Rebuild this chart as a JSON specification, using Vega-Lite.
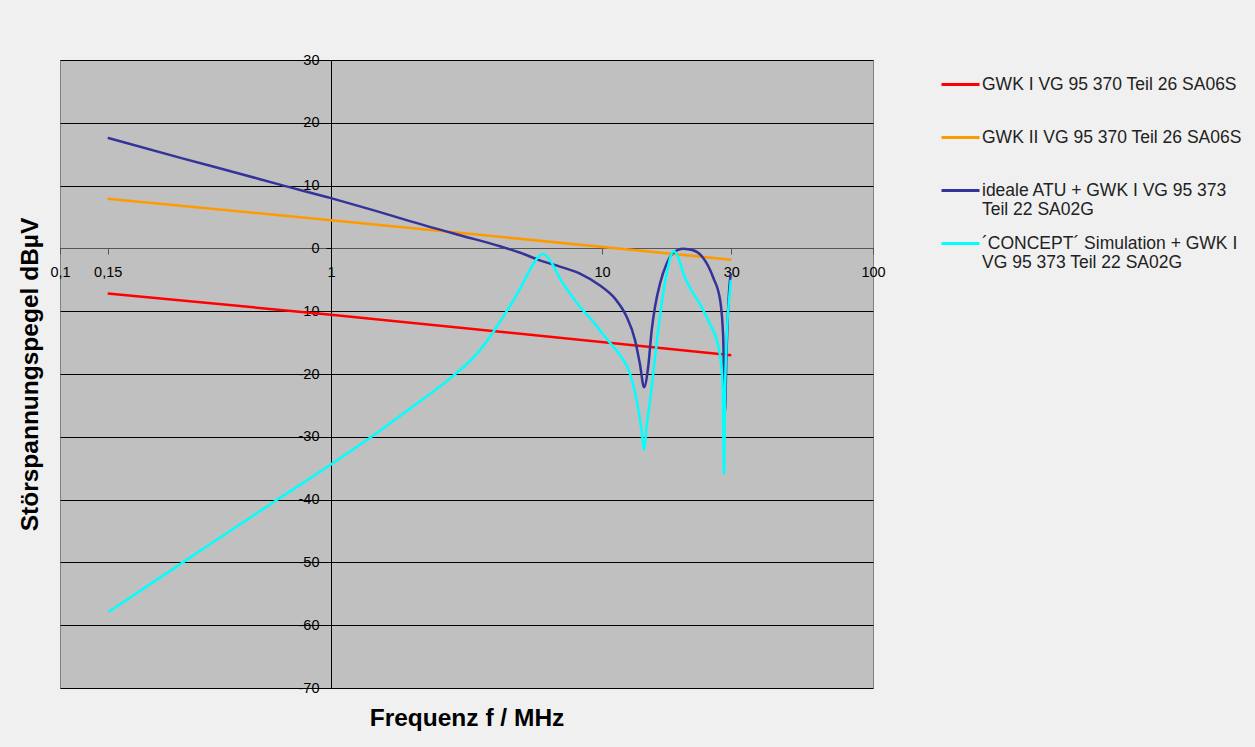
{
  "$schema": "https://vega.github.io/schema/vega-lite/v6.json",
  "width": 813,
  "height": 628,
  "autosize": {"type": "none"},
  "padding": {"left": 60, "top": 60, "right": 382, "bottom": 59},
  "background": "#F0F0F0",
  "config": {
    "view": {"fill": "#C0C0C0", "stroke": "#808080", "strokeWidth": 1},
    "font": "Liberation Sans"
  },
  "data": {
    "values": [
      {"series": "GWK I VG 95 370 Teil 26 SA06S", "f": 0.15, "dB": -7.2},
      {"series": "GWK I VG 95 370 Teil 26 SA06S", "f": 1, "dB": -10.55},
      {"series": "GWK I VG 95 370 Teil 26 SA06S", "f": 30, "dB": -17.0},
      {"series": "GWK II VG 95 370 Teil 26 SA06S", "f": 0.15, "dB": 7.9},
      {"series": "GWK II VG 95 370 Teil 26 SA06S", "f": 1, "dB": 4.5},
      {"series": "GWK II VG 95 370 Teil 26 SA06S", "f": 30, "dB": -1.8},
      {"series": "ideale ATU + GWK I VG 95 373 Teil 22 SA02G", "f": 0.15, "dB": 17.6},
      {"series": "ideale ATU + GWK I VG 95 373 Teil 22 SA02G", "f": 0.285, "dB": 14.3},
      {"series": "ideale ATU + GWK I VG 95 373 Teil 22 SA02G", "f": 0.461, "dB": 11.9},
      {"series": "ideale ATU + GWK I VG 95 373 Teil 22 SA02G", "f": 0.648, "dB": 10.15},
      {"series": "ideale ATU + GWK I VG 95 373 Teil 22 SA02G", "f": 1.0, "dB": 8.0},
      {"series": "ideale ATU + GWK I VG 95 373 Teil 22 SA02G", "f": 1.43, "dB": 6.1},
      {"series": "ideale ATU + GWK I VG 95 373 Teil 22 SA02G", "f": 1.9, "dB": 4.5},
      {"series": "ideale ATU + GWK I VG 95 373 Teil 22 SA02G", "f": 2.99, "dB": 2.1},
      {"series": "ideale ATU + GWK I VG 95 373 Teil 22 SA02G", "f": 4.2, "dB": 0.35},
      {"series": "ideale ATU + GWK I VG 95 373 Teil 22 SA02G", "f": 5.0, "dB": -0.7},
      {"series": "ideale ATU + GWK I VG 95 373 Teil 22 SA02G", "f": 5.9, "dB": -1.9},
      {"series": "ideale ATU + GWK I VG 95 373 Teil 22 SA02G", "f": 7.0, "dB": -2.9},
      {"series": "ideale ATU + GWK I VG 95 373 Teil 22 SA02G", "f": 8.29, "dB": -4.0},
      {"series": "ideale ATU + GWK I VG 95 373 Teil 22 SA02G", "f": 9.83, "dB": -5.9},
      {"series": "ideale ATU + GWK I VG 95 373 Teil 22 SA02G", "f": 11.17, "dB": -8.0},
      {"series": "ideale ATU + GWK I VG 95 373 Teil 22 SA02G", "f": 12.33, "dB": -10.9},
      {"series": "ideale ATU + GWK I VG 95 373 Teil 22 SA02G", "f": 13.24, "dB": -14.6},
      {"series": "ideale ATU + GWK I VG 95 373 Teil 22 SA02G", "f": 13.8, "dB": -18.4},
      {"series": "ideale ATU + GWK I VG 95 373 Teil 22 SA02G", "f": 14.3, "dB": -22.1},
      {"series": "ideale ATU + GWK I VG 95 373 Teil 22 SA02G", "f": 14.8, "dB": -18.9},
      {"series": "ideale ATU + GWK I VG 95 373 Teil 22 SA02G", "f": 15.25, "dB": -13.1},
      {"series": "ideale ATU + GWK I VG 95 373 Teil 22 SA02G", "f": 15.69, "dB": -9.3},
      {"series": "ideale ATU + GWK I VG 95 373 Teil 22 SA02G", "f": 16.37, "dB": -5.6},
      {"series": "ideale ATU + GWK I VG 95 373 Teil 22 SA02G", "f": 17.33, "dB": -2.4},
      {"series": "ideale ATU + GWK I VG 95 373 Teil 22 SA02G", "f": 18.3, "dB": -0.74},
      {"series": "ideale ATU + GWK I VG 95 373 Teil 22 SA02G", "f": 19.95, "dB": -0.05},
      {"series": "ideale ATU + GWK I VG 95 373 Teil 22 SA02G", "f": 21.7, "dB": -0.3},
      {"series": "ideale ATU + GWK I VG 95 373 Teil 22 SA02G", "f": 23.6, "dB": -1.5},
      {"series": "ideale ATU + GWK I VG 95 373 Teil 22 SA02G", "f": 25.7, "dB": -4.6},
      {"series": "ideale ATU + GWK I VG 95 373 Teil 22 SA02G", "f": 27.3, "dB": -8.3},
      {"series": "ideale ATU + GWK I VG 95 373 Teil 22 SA02G", "f": 28.0, "dB": -14.1},
      {"series": "ideale ATU + GWK I VG 95 373 Teil 22 SA02G", "f": 28.4, "dB": -26.3},
      {"series": "ideale ATU + GWK I VG 95 373 Teil 22 SA02G", "f": 28.8, "dB": -16.8},
      {"series": "ideale ATU + GWK I VG 95 373 Teil 22 SA02G", "f": 29.5, "dB": -6.2},
      {"series": "ideale ATU + GWK I VG 95 373 Teil 22 SA02G", "f": 29.9, "dB": -4.0},
      {"series": "´CONCEPT´ Simulation + GWK I VG 95 373 Teil 22 SA02G", "f": 0.151, "dB": -57.9},
      {"series": "´CONCEPT´ Simulation + GWK I VG 95 373 Teil 22 SA02G", "f": 0.285, "dB": -49.95},
      {"series": "´CONCEPT´ Simulation + GWK I VG 95 373 Teil 22 SA02G", "f": 0.639, "dB": -39.9},
      {"series": "´CONCEPT´ Simulation + GWK I VG 95 373 Teil 22 SA02G", "f": 1.0, "dB": -34.4},
      {"series": "´CONCEPT´ Simulation + GWK I VG 95 373 Teil 22 SA02G", "f": 1.41, "dB": -30.0},
      {"series": "´CONCEPT´ Simulation + GWK I VG 95 373 Teil 22 SA02G", "f": 1.957, "dB": -25.5},
      {"series": "´CONCEPT´ Simulation + GWK I VG 95 373 Teil 22 SA02G", "f": 2.75, "dB": -20.7},
      {"series": "´CONCEPT´ Simulation + GWK I VG 95 373 Teil 22 SA02G", "f": 3.45, "dB": -16.8},
      {"series": "´CONCEPT´ Simulation + GWK I VG 95 373 Teil 22 SA02G", "f": 3.97, "dB": -13.3},
      {"series": "´CONCEPT´ Simulation + GWK I VG 95 373 Teil 22 SA02G", "f": 4.51, "dB": -9.6},
      {"series": "´CONCEPT´ Simulation + GWK I VG 95 373 Teil 22 SA02G", "f": 4.84, "dB": -7.4},
      {"series": "´CONCEPT´ Simulation + GWK I VG 95 373 Teil 22 SA02G", "f": 5.13, "dB": -5.4},
      {"series": "´CONCEPT´ Simulation + GWK I VG 95 373 Teil 22 SA02G", "f": 5.42, "dB": -3.4},
      {"series": "´CONCEPT´ Simulation + GWK I VG 95 373 Teil 22 SA02G", "f": 5.74, "dB": -1.7},
      {"series": "´CONCEPT´ Simulation + GWK I VG 95 373 Teil 22 SA02G", "f": 6.05, "dB": -0.9},
      {"series": "´CONCEPT´ Simulation + GWK I VG 95 373 Teil 22 SA02G", "f": 6.43, "dB": -1.9},
      {"series": "´CONCEPT´ Simulation + GWK I VG 95 373 Teil 22 SA02G", "f": 7.0, "dB": -4.8},
      {"series": "´CONCEPT´ Simulation + GWK I VG 95 373 Teil 22 SA02G", "f": 7.62, "dB": -7.2},
      {"series": "´CONCEPT´ Simulation + GWK I VG 95 373 Teil 22 SA02G", "f": 8.29, "dB": -9.3},
      {"series": "´CONCEPT´ Simulation + GWK I VG 95 373 Teil 22 SA02G", "f": 9.29, "dB": -11.7},
      {"series": "´CONCEPT´ Simulation + GWK I VG 95 373 Teil 22 SA02G", "f": 10.4, "dB": -14.4},
      {"series": "´CONCEPT´ Simulation + GWK I VG 95 373 Teil 22 SA02G", "f": 11.65, "dB": -17.0},
      {"series": "´CONCEPT´ Simulation + GWK I VG 95 373 Teil 22 SA02G", "f": 12.7, "dB": -20.0},
      {"series": "´CONCEPT´ Simulation + GWK I VG 95 373 Teil 22 SA02G", "f": 13.43, "dB": -24.2},
      {"series": "´CONCEPT´ Simulation + GWK I VG 95 373 Teil 22 SA02G", "f": 14.0, "dB": -29.0},
      {"series": "´CONCEPT´ Simulation + GWK I VG 95 373 Teil 22 SA02G", "f": 14.3, "dB": -32.1},
      {"series": "´CONCEPT´ Simulation + GWK I VG 95 373 Teil 22 SA02G", "f": 14.6, "dB": -28.5},
      {"series": "´CONCEPT´ Simulation + GWK I VG 95 373 Teil 22 SA02G", "f": 15.25, "dB": -22.1},
      {"series": "´CONCEPT´ Simulation + GWK I VG 95 373 Teil 22 SA02G", "f": 15.9, "dB": -15.2},
      {"series": "´CONCEPT´ Simulation + GWK I VG 95 373 Teil 22 SA02G", "f": 16.6, "dB": -8.8},
      {"series": "´CONCEPT´ Simulation + GWK I VG 95 373 Teil 22 SA02G", "f": 17.33, "dB": -4.0},
      {"series": "´CONCEPT´ Simulation + GWK I VG 95 373 Teil 22 SA02G", "f": 18.07, "dB": -0.85},
      {"series": "´CONCEPT´ Simulation + GWK I VG 95 373 Teil 22 SA02G", "f": 18.4, "dB": -0.4},
      {"series": "´CONCEPT´ Simulation + GWK I VG 95 373 Teil 22 SA02G", "f": 19.1, "dB": -1.4},
      {"series": "´CONCEPT´ Simulation + GWK I VG 95 373 Teil 22 SA02G", "f": 19.95, "dB": -4.0},
      {"series": "´CONCEPT´ Simulation + GWK I VG 95 373 Teil 22 SA02G", "f": 21.4, "dB": -6.7},
      {"series": "´CONCEPT´ Simulation + GWK I VG 95 373 Teil 22 SA02G", "f": 23.3, "dB": -9.3},
      {"series": "´CONCEPT´ Simulation + GWK I VG 95 373 Teil 22 SA02G", "f": 25.0, "dB": -12.0},
      {"series": "´CONCEPT´ Simulation + GWK I VG 95 373 Teil 22 SA02G", "f": 26.5, "dB": -14.6},
      {"series": "´CONCEPT´ Simulation + GWK I VG 95 373 Teil 22 SA02G", "f": 27.4, "dB": -17.8},
      {"series": "´CONCEPT´ Simulation + GWK I VG 95 373 Teil 22 SA02G", "f": 27.87, "dB": -22.1},
      {"series": "´CONCEPT´ Simulation + GWK I VG 95 373 Teil 22 SA02G", "f": 28.2, "dB": -35.9},
      {"series": "´CONCEPT´ Simulation + GWK I VG 95 373 Teil 22 SA02G", "f": 28.4, "dB": -24.7},
      {"series": "´CONCEPT´ Simulation + GWK I VG 95 373 Teil 22 SA02G", "f": 28.75, "dB": -15.7},
      {"series": "´CONCEPT´ Simulation + GWK I VG 95 373 Teil 22 SA02G", "f": 29.5, "dB": -7.75},
      {"series": "´CONCEPT´ Simulation + GWK I VG 95 373 Teil 22 SA02G", "f": 29.9, "dB": -5.0}
    ]
  },
  "mark": {"type": "line", "interpolate": "monotone", "strokeWidth": 2.5},
  "encoding": {
    "x": {
      "field": "f",
      "type": "quantitative",
      "scale": {"type": "log", "domain": [0.1, 100], "nice": false},
      "axis": {
        "orient": "bottom",
        "offset": -440,
        "values": [0.1, 0.15, 1, 10, 30, 100],
        "labelExpr": "replace(toString(datum.value), '.', ',')",
        "grid": false,
        "domainColor": "#555555",
        "tickColor": "#555555",
        "tickSize": 6,
        "labelPadding": 11,
        "labelFontSize": 14.5,
        "labelColor": "#000000",
        "labelFlush": false,
        "labelOverlap": false,
        "title": "Frequenz f / MHz",
        "titleFontSize": 24.5,
        "titleFontWeight": "bold",
        "titleColor": "#000000",
        "titleX": 406.5,
        "titleY": 470,
        "titleBaseline": "middle",
        "titleAlign": "center"
      }
    },
    "y": {
      "field": "dB",
      "type": "quantitative",
      "scale": {"domain": [-70, 30], "nice": false, "zero": false},
      "axis": {
        "orient": "left",
        "offset": -271,
        "values": [-70, -60, -50, -40, -30, -20, -10, 0, 10, 20, 30],
        "labelExpr": "toString(datum.value)",
        "grid": true,
        "gridColor": "#000000",
        "gridOpacity": 1,
        "gridWidth": 1,
        "domainColor": "#000000",
        "tickColor": "#000000",
        "tickSize": 5,
        "labelPadding": 7,
        "labelFontSize": 14.5,
        "labelColor": "#000000",
        "labelFlush": false,
        "labelOverlap": false,
        "title": "Störspannungspegel dBµV",
        "titleFontSize": 24.5,
        "titleFontWeight": "bold",
        "titleColor": "#000000",
        "titleAngle": -90,
        "titleX": -301,
        "titleY": 314,
        "titleBaseline": "middle",
        "titleAlign": "center"
      }
    },
    "color": {
      "field": "series",
      "type": "nominal",
      "scale": {
        "domain": [
          "GWK I VG 95 370 Teil 26 SA06S",
          "GWK II VG 95 370 Teil 26 SA06S",
          "ideale ATU + GWK I VG 95 373 Teil 22 SA02G",
          "´CONCEPT´ Simulation + GWK I VG 95 373 Teil 22 SA02G"
        ],
        "range": ["#FF0000", "#FF9900", "#333399", "#00FFFF"]
      },
      "legend": {
        "orient": "none",
        "legendX": 880,
        "legendY": 4,
        "title": null,
        "padding": 0,
        "symbolType": "stroke",
        "symbolSize": 1444,
        "symbolStrokeWidth": 3,
        "labelFontSize": 17.5,
        "labelColor": "#222222",
        "labelOffset": 1,
        "labelLimit": 400,
        "rowPadding": 4,
        "labelExpr": "datum.label == 'ideale ATU + GWK I VG 95 373 Teil 22 SA02G' ? ['ideale ATU + GWK I VG 95 373', 'Teil 22 SA02G'] : datum.label == '´CONCEPT´ Simulation + GWK I VG 95 373 Teil 22 SA02G' ? ['´CONCEPT´ Simulation + GWK I', 'VG 95 373 Teil 22 SA02G'] : [datum.label, '']"
      }
    }
  }
}
